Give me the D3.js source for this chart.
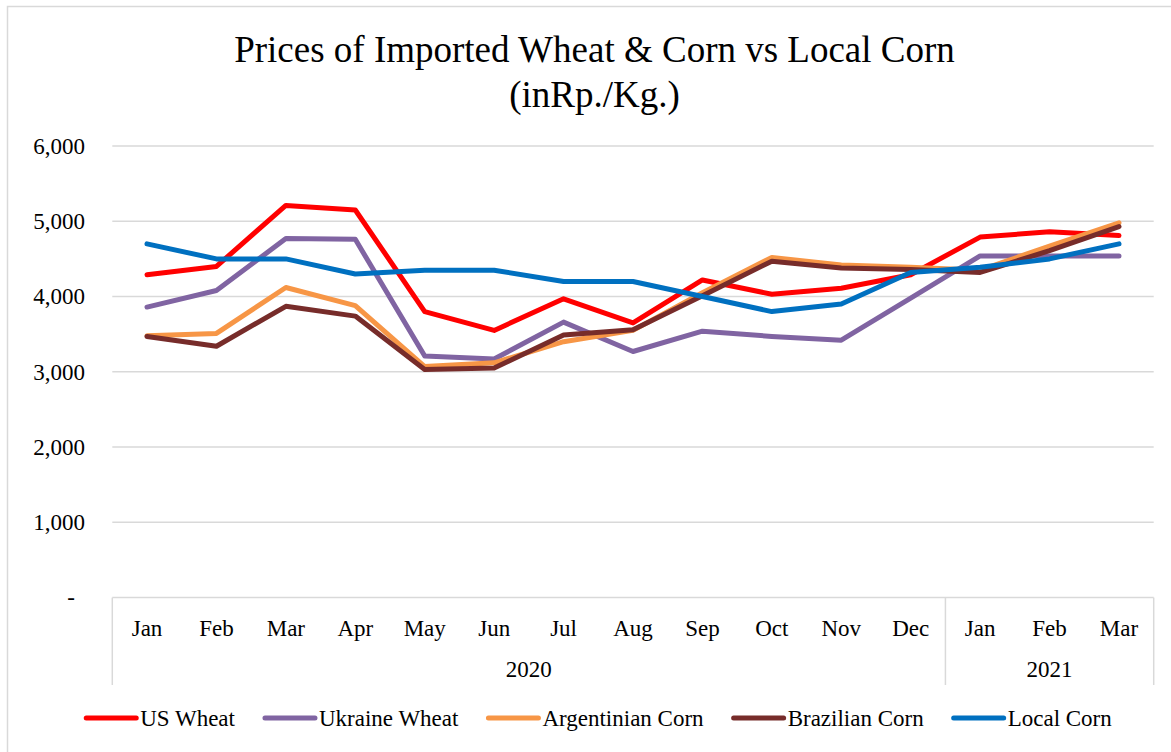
<!DOCTYPE html>
<html><head><meta charset="utf-8">
<script src="https://cdn.jsdelivr.net/npm/d3@7"></script>
<style>body{margin:0;background:#fff}svg{display:block}text{font-family:"Liberation Serif","Times New Roman",serif;fill:#000}</style>
</head><body>
<svg id="c" width="1171" height="752"></svg>
<script>
const months = ["Jan","Feb","Mar","Apr","May","Jun","Jul","Aug","Sep","Oct","Nov","Dec","Jan","Feb","Mar"];
const years = [{label:"2020", start:0, end:12},{label:"2021", start:12, end:15}];
const yTicks = [0,1000,2000,3000,4000,5000,6000];
const seriesNames = ["US Wheat","Ukraine Wheat","Argentinian Corn","Brazilian Corn","Local Corn"];
const usWheat       = [4290,4400,5210,5150,3800,3550,3970,3650,4220,4030,4110,4290,4790,4860,4810];
const ukraineWheat  = [3860,4080,4770,4760,3210,3170,3660,3270,3540,3470,3420,3980,4540,4540,4540];
const argentinaCorn = [3480,3510,4120,3880,3070,3120,3400,3550,4050,4520,4420,4390,4350,4670,4980];
const brazilCorn    = [3470,3340,3870,3740,3030,3050,3490,3560,4010,4470,4380,4360,4320,4610,4930];
const localCorn     = [4700,4500,4500,4300,4350,4350,4200,4200,4000,3800,3900,4320,4390,4500,4700];
const seriesValues = [usWheat, ukraineWheat, argentinaCorn, brazilCorn, localCorn];
const colors = ["#FF0000","#8064A2","#F79646","#772C2A","#0070C0"];

const svg = d3.select("#c");
const L = 112.3, R = 1153.7, T = 146, B = 597.6;

svg.append("rect").attr("x",7.5).attr("y",6.5).attr("width",1170).attr("height",760)
  .attr("fill","#fff").attr("stroke","#d9d9d9").attr("stroke-width",1.5);

svg.append("text").attr("x",594.5).attr("y",62).attr("text-anchor","middle")
  .style("font-size","37px").text("Prices of Imported Wheat & Corn vs Local Corn");
svg.append("text").attr("x",594.5).attr("y",107).attr("text-anchor","middle")
  .style("font-size","37px").text("(inRp./Kg.)");

const x = d3.scaleBand().domain(d3.range(months.length)).range([L,R]);
const y = d3.scaleLinear().domain([0,6000]).range([B,T]);

// gridlines
svg.append("g").selectAll("line").data(yTicks.filter(d=>d>0)).join("line")
  .attr("x1",L).attr("x2",R).attr("y1",d=>y(d)).attr("y2",d=>y(d))
  .attr("stroke","#d9d9d9").attr("stroke-width",1.5);

// y axis labels
const yAxis = d3.axisLeft(y).tickValues(yTicks).tickSize(0).tickPadding(0)
  .tickFormat(d=> d===0 ? "-" : d3.format(",")(d));
const gy = svg.append("g").attr("transform",`translate(85,0)`).call(yAxis);
gy.select(".domain").remove();
gy.selectAll("text").style("font-size","23px").attr("font-family",null);
gy.selectAll(".tick").filter(d=>d===0).select("text").attr("x",-10);

// x axis (multi-level)
svg.append("line").attr("x1",L).attr("x2",R).attr("y1",B).attr("y2",B)
  .attr("stroke","#d9d9d9").attr("stroke-width",1.5);
const xAxis = d3.axisBottom(x).tickSize(0).tickPadding(0).tickFormat(i=>months[i]);
const gx = svg.append("g").attr("transform",`translate(0,${B})`).call(xAxis);
gx.select(".domain").remove();
gx.selectAll("text").attr("y",38).attr("dy",null).style("font-size","23px").attr("font-family",null);

const sepIdx = [0,12,15];
svg.append("g").selectAll("line").data(sepIdx).join("line")
  .attr("x1",i=> i<months.length ? x(i) : x(months.length-1)+x.bandwidth())
  .attr("x2",i=> i<months.length ? x(i) : x(months.length-1)+x.bandwidth())
  .attr("y1",B).attr("y2",685).attr("stroke","#d9d9d9").attr("stroke-width",1.5);

svg.append("g").selectAll("text").data(years).join("text")
  .attr("x",d=> (x(d.start) + x(d.end-1)+x.bandwidth())/2).attr("y",677)
  .attr("text-anchor","middle").style("font-size","23px").text(d=>d.label);

// lines
const line = d3.line().x((d,i)=>x(i)+x.bandwidth()/2).y(d=>y(d));
svg.append("g").selectAll("path").data(seriesValues).join("path")
  .attr("d",line).attr("fill","none").attr("stroke",(d,i)=>colors[i])
  .attr("stroke-width",5).attr("stroke-linejoin","round").attr("stroke-linecap","round");

// legend
const lg = svg.append("g");
let cx = 0;
const items = [];
seriesNames.forEach((n,i)=>{
  const g = lg.append("g");
  g.append("line").attr("x1",2).attr("x2",52).attr("y1",0).attr("y2",0)
    .attr("stroke",colors[i]).attr("stroke-width",5).attr("stroke-linecap","round");
  const t = g.append("text").attr("x",56).attr("y",8).style("font-size","23px").text(n);
  const w = 56 + t.node().getComputedTextLength();
  g.attr("transform",`translate(${cx},718)`);
  cx += w + 28;
});
const total = cx - 28;
lg.attr("transform",`translate(${598 - total/2},0)`);
</script>
</body></html>
